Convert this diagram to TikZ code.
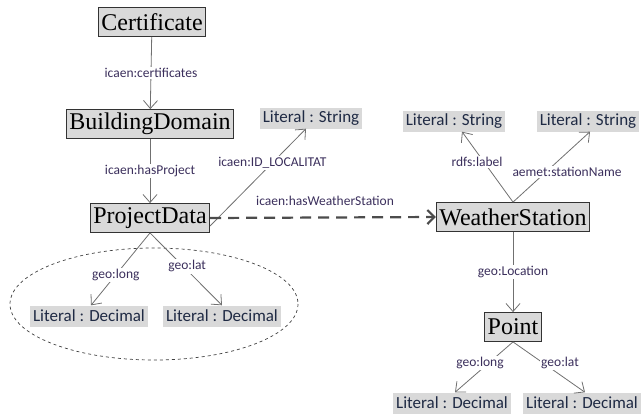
\documentclass[tikz,border=0pt]{standalone}
\usepackage{fontspec}
\setmainfont{Liberation Serif}
\newfontfamily\lblfont{Carlito}
\usetikzlibrary{arrows.meta}
\definecolor{boxfill}{HTML}{D9D9D9}
\definecolor{edgecol}{HTML}{707070}
\definecolor{lblcol}{HTML}{3B2F5C}
\definecolor{litcol}{HTML}{1F2A44}
\tikzset{
  classbox/.style={draw=black!80, line width=0.8pt, fill=boxfill, font=\fontsize{24}{26}\selectfont, inner sep=3pt, minimum height=29pt},
  litbox/.style={fill=boxfill, font=\lblfont\fontsize{17}{19}\selectfont, text=litcol, inner sep=3pt, minimum height=21pt},
  rel/.style={draw=edgecol, line width=0.8pt, -{Straight Barb[length=8pt,width=14pt]}},
  elabel/.style={fill=white, font=\lblfont\fontsize{13.5}{15}\selectfont, text=lblcol, inner sep=1.5pt},
}
\begin{document}
\begin{tikzpicture}[x=1pt,y=-1pt]
\useasboundingbox (0,0) rectangle (642,413);
% ellipse
\draw[dashed, black!75, line width=0.7pt] (154,304) ellipse [x radius=144, y radius=56];
% nodes
\node[classbox] (cert) at (152,22) {Certificate};
\node[classbox] (bd) at (150,124) {BuildingDomain};
\node[classbox] (pd) at (150,218) {ProjectData};
\node[classbox] (ws) at (513,217) {WeatherStation};
\node[classbox] (pt) at (513,327) {Point};
\node[litbox] (ls1) at (311,118) {Literal : String};
\node[litbox] (ls2) at (454,121) {Literal : String};
\node[litbox] (ls3) at (588,121) {Literal : String};
\node[litbox] (ld1) at (89,316) {Literal : Decimal};
\node[litbox] (ld2) at (222,316) {Literal : Decimal};
\node[litbox] (ld3) at (452,403) {Literal : Decimal};
\node[litbox] (ld4) at (582,403) {Literal : Decimal};
% edges
\draw[rel] (cert) -- node[elabel] {icaen:certificates} (bd);
\draw[rel] (bd) -- node[elabel] {icaen:hasProject} (pd);
\draw[rel] (pd.east) ++(0,8) coordinate (pdr) -- node[elabel, pos=0.65] {icaen:ID\_LOCALITAT} ([xshift=-5pt]ls1.south);
\draw[draw=black!70, line width=2.2pt, dash pattern=on 11pt off 7pt, -{Straight Barb[length=7pt,width=14pt,line width=2.2pt]}] (pd.east) -- (ws.west);
\node[elabel, fill=none] (hws) at (325,201) {icaen:hasWeatherStation};
\draw[rel] (pd.south) -- node[elabel, pos=0.58] {geo:long} ([xshift=2pt]ld1.north);
\draw[rel] (pd.south) -- node[elabel, pos=0.46, xshift=4pt] {geo:lat} (ld2.north);
\draw[rel] (ws.north) -- ([xshift=8pt]ls2.south);
\draw[rel] (ws.north) -- ([xshift=2pt]ls3.south);
\node[elabel] (lrl) at (477,162) {rdfs:label};
\node[elabel] (lsn) at (567,172) {aemet:stationName};
\draw[rel] (ws) -- node[elabel] {geo:Location} (pt);
\draw[rel] (pt.south) -- ([xshift=3pt]ld3.north);
\draw[rel] (pt.south) -- ([xshift=3pt]ld4.north);
\node[elabel] (plo) at (480,363) {geo:long};
\node[elabel] (pla) at (560,363) {geo:lat};
\end{tikzpicture}
\end{document}
